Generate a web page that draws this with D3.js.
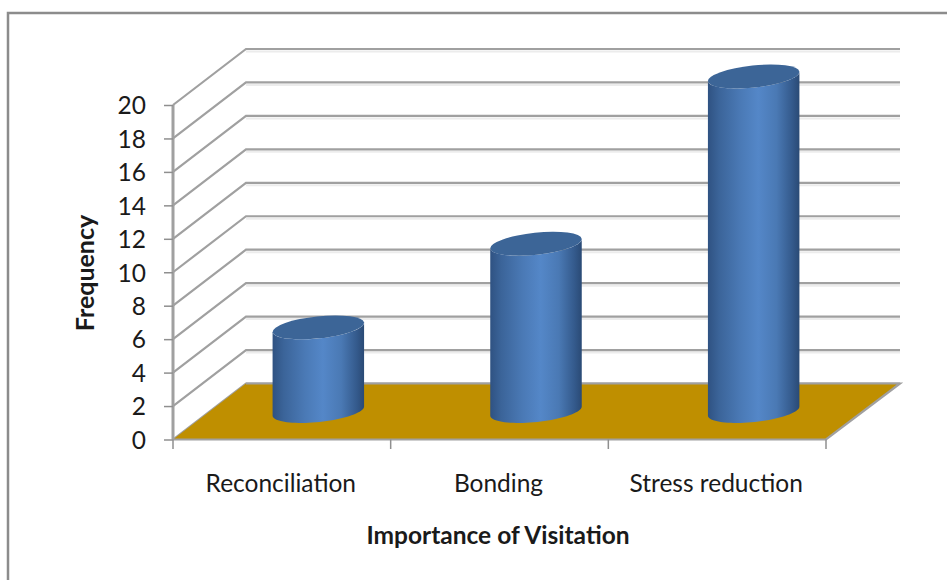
<!DOCTYPE html>
<html>
<head>
<meta charset="utf-8">
<script src="https://cdn.jsdelivr.net/npm/d3@7"></script>
<style>
html,body{margin:0;padding:0;background:#fff}
svg{display:block}
text{font-family:Lato,"Open Sans",sans-serif;fill:#1a1a1a}
</style>
</head>
<body>
<svg id="chart" width="947" height="580"></svg>
<script>
const categories = ["Reconciliation", "Bonding", "Stress reduction"];
const frequency = [5, 10, 20];
const yTickValues = d3.range(0, 21, 2);
const xAxisTitle = "Importance of Visitation";
const yAxisTitle = "Frequency";

const svg = d3.select("#chart");
const depth = {dx: 73, dy: -56};
const x = d3.scaleBand().domain(categories).range([173, 826]);
const y = d3.scaleLinear().domain([0, 20]).range([439.5, 105]);
const grey = "#a0a0a0";
const labelSize = "24.5px";

// Outer chart frame
svg.append("path").attr("d", "M8,580V13H947").attr("fill", "none")
  .attr("stroke", "#8c8c8c").attr("stroke-width", 2.5);

// Cylinder shading, dark at both edges with a highlight right of centre
const grad = svg.append("defs").append("linearGradient").attr("id", "cyl");
[[0, "#2f5282"], [0.12, "#3b6499"], [0.35, "#4a79b5"], [0.55, "#5487c8"],
 [0.75, "#4a79b4"], [0.92, "#345a8c"], [1, "#2a4a75"]].forEach(([o, c]) =>
  grad.append("stop").attr("offset", o).attr("stop-color", c));

// Back wall and side wall gridlines
const grid = svg.append("g");
yTickValues.forEach(t => {
  const yy = y(t);
  if (t > 0) {
    grid.append("line").attr("x1", 246).attr("x2", 900)
      .attr("y1", yy + depth.dy + 2.5).attr("y2", yy + depth.dy + 2.5)
      .attr("stroke", "#ececec").attr("stroke-width", 2);
  }
  grid.append("path")
    .attr("d", `M${x.range()[0]},${yy}l${depth.dx},${depth.dy}H900`)
    .attr("fill", "none").attr("stroke", grey).attr("stroke-width", 2.2);
});

// Floor
svg.append("path")
  .attr("d", `M173,${y(0)}l${depth.dx},${depth.dy}H900L826,${y(0)}Z`)
  .attr("fill", "#bf8f00");
svg.append("path")
  .attr("d", `M246,${y(0) + depth.dy}H900L826,${y(0)}H173`)
  .attr("fill", "none").attr("stroke", grey).attr("stroke-width", 2.2);

// Value axis with outward ticks
svg.append("line").attr("x1", 173).attr("x2", 173).attr("y1", y(20)).attr("y2", y(0))
  .attr("stroke", grey).attr("stroke-width", 3);
const yAxis = svg.append("g").attr("transform", "translate(173,0)")
  .call(d3.axisLeft(y).tickValues(yTickValues).tickSize(9).tickPadding(18));
yAxis.select(".domain").remove();
yAxis.selectAll("line").attr("stroke", "#8f8f8f").attr("stroke-width", 1.5);
yAxis.selectAll("text").style("font-size", labelSize).attr("fill", "#1a1a1a")
  .attr("dy", "0.36em");

// Category axis: ticks at band edges, labels centred in the bands
const bands = categories.map(c => x(c)).concat(x.range()[1]);
svg.selectAll(".xtick").data(bands).enter().append("line").attr("class", "xtick")
  .attr("x1", d => d).attr("x2", d => d).attr("y1", y(0)).attr("y2", 449)
  .attr("stroke", "#8f8f8f").attr("stroke-width", 1.5);
svg.selectAll(".xlab").data(categories).enter().append("text").attr("class", "xlab")
  .attr("x", d => x(d) + x.bandwidth() / 2 - 1).attr("y", 492)
  .attr("text-anchor", "middle").style("font-size", labelSize).text(d => d);

// Cylinders stand in the middle of the floor depth
const rx = 46, ry = 11, tilt = -6;
const a = tilt * Math.PI / 180;
const baseY = y(0) + depth.dy / 2 - 0.5;
const barH = v => y(0) - y(v);
const cx = c => x(c) + x.bandwidth() / 2 + 36.5;

// Point on the tilted ellipse at parameter t, offset upward by h
const rim = (t, h) => [
  rx * Math.cos(t) * Math.cos(a) - ry * Math.sin(t) * Math.sin(a),
  rx * Math.cos(t) * Math.sin(a) + ry * Math.sin(t) * Math.cos(a) - h
];
const lowerHalf = d3.range(0, 41).map(i => Math.PI - i * Math.PI / 40);
const upperHalf = d3.range(0, 41).map(i => i * Math.PI / 40);
const outline = d3.line();

const bars = svg.selectAll(".bar").data(categories.map((c, i) => ({c, v: frequency[i]})))
  .enter().append("g").attr("class", "bar")
  .attr("transform", d => `translate(${cx(d.c)},${baseY})`);
// Body: lower rim at the floor, then the near half of the top rim back across
bars.append("path").attr("fill", "url(#cyl)").attr("d", d => {
  const h = barH(d.v);
  return outline(lowerHalf.map(t => rim(t, 0)).concat(upperHalf.map(t => rim(t, h)))) + "Z";
});
bars.append("ellipse").attr("rx", rx).attr("ry", ry)
  .attr("transform", d => `translate(0,${-barH(d.v)}) rotate(${tilt})`)
  .attr("fill", "#3c6597");

// Axis titles
svg.append("text").attr("x", 498).attr("y", 544).attr("text-anchor", "middle")
  .style("font-size", labelSize).style("font-weight", 700).text(xAxisTitle);
svg.append("text").attr("transform", "translate(94,273) rotate(-90)")
  .attr("text-anchor", "middle").style("font-size", "25px").style("font-weight", 700)
  .text(yAxisTitle);
</script>
</body>
</html>
